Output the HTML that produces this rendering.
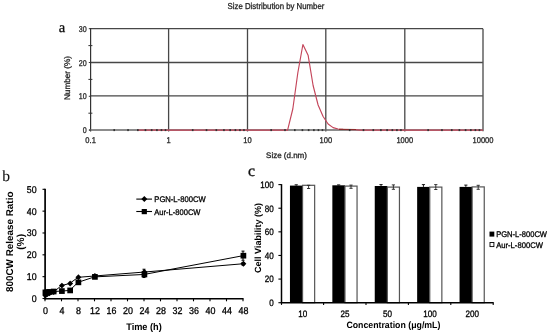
<!DOCTYPE html>
<html><head><meta charset="utf-8"><style>
html,body{margin:0;padding:0;background:#fff;}
body{width:550px;height:336px;overflow:hidden;font-family:"Liberation Sans",sans-serif;}
svg{display:block;will-change:transform;filter:blur(0.4px);}
</style></head><body>
<svg width="550" height="336" viewBox="0 0 550 336" text-rendering="geometricPrecision">
<rect x="0" y="0" width="550" height="336" fill="#fff"/>
<text x="276.00" y="9.00" font-family="Liberation Sans" font-size="8.6" font-weight="normal" text-anchor="middle" fill="#262626" stroke="#262626" stroke-width="0.3" textLength="96.8" lengthAdjust="spacingAndGlyphs">Size Distribution by Number</text>
<text x="58.70" y="31.70" font-family="Liberation Serif" font-size="14.5" font-weight="normal" text-anchor="start" fill="#111" stroke="#111" stroke-width="0.3" >a</text>
<line x1="90.60" y1="95.90" x2="483.00" y2="95.90" stroke="#474747" stroke-width="1.3" />
<line x1="90.60" y1="62.50" x2="483.00" y2="62.50" stroke="#474747" stroke-width="1.3" />
<line x1="90.60" y1="28.70" x2="483.00" y2="28.70" stroke="#474747" stroke-width="1.3" />
<line x1="168.60" y1="28.70" x2="168.60" y2="131.50" stroke="#474747" stroke-width="1.3" />
<line x1="247.50" y1="28.70" x2="247.50" y2="131.50" stroke="#474747" stroke-width="1.3" />
<line x1="325.80" y1="28.70" x2="325.80" y2="131.50" stroke="#474747" stroke-width="1.3" />
<line x1="404.80" y1="28.70" x2="404.80" y2="131.50" stroke="#474747" stroke-width="1.3" />
<line x1="483.00" y1="28.70" x2="483.00" y2="131.30" stroke="#555" stroke-width="1.4" />
<line x1="90.60" y1="28.10" x2="90.60" y2="131.60" stroke="#333" stroke-width="1.2" />
<line x1="89.10" y1="130.10" x2="483.00" y2="130.10" stroke="#666" stroke-width="1.5" />
<line x1="88.40" y1="113.20" x2="92.40" y2="113.20" stroke="#333" stroke-width="1" />
<line x1="88.40" y1="79.40" x2="92.40" y2="79.40" stroke="#333" stroke-width="1" />
<line x1="88.40" y1="45.60" x2="92.40" y2="45.60" stroke="#333" stroke-width="1" />
<line x1="88.80" y1="130.10" x2="90.60" y2="130.10" stroke="#333" stroke-width="1" />
<line x1="88.80" y1="96.30" x2="90.60" y2="96.30" stroke="#333" stroke-width="1" />
<line x1="88.80" y1="62.50" x2="90.60" y2="62.50" stroke="#333" stroke-width="1" />
<line x1="88.80" y1="28.70" x2="90.60" y2="28.70" stroke="#333" stroke-width="1" />
<text x="86.70" y="133.20" font-family="Liberation Sans" font-size="8.4" font-weight="normal" text-anchor="end" fill="#262626" stroke="#262626" stroke-width="0.3" textLength="3.95" lengthAdjust="spacingAndGlyphs">0</text>
<text x="86.70" y="99.40" font-family="Liberation Sans" font-size="8.4" font-weight="normal" text-anchor="end" fill="#262626" stroke="#262626" stroke-width="0.3" textLength="7.90" lengthAdjust="spacingAndGlyphs">10</text>
<text x="86.70" y="65.60" font-family="Liberation Sans" font-size="8.4" font-weight="normal" text-anchor="end" fill="#262626" stroke="#262626" stroke-width="0.3" textLength="7.90" lengthAdjust="spacingAndGlyphs">20</text>
<text x="86.70" y="31.80" font-family="Liberation Sans" font-size="8.4" font-weight="normal" text-anchor="end" fill="#262626" stroke="#262626" stroke-width="0.3" textLength="7.90" lengthAdjust="spacingAndGlyphs">30</text>
<text x="90.60" y="143.20" font-family="Liberation Sans" font-size="8.4" font-weight="normal" text-anchor="middle" fill="#262626" stroke="#262626" stroke-width="0.3" textLength="10.50" lengthAdjust="spacingAndGlyphs">0.1</text>
<text x="168.60" y="143.20" font-family="Liberation Sans" font-size="8.4" font-weight="normal" text-anchor="middle" fill="#262626" stroke="#262626" stroke-width="0.3" textLength="4.20" lengthAdjust="spacingAndGlyphs">1</text>
<text x="247.50" y="143.20" font-family="Liberation Sans" font-size="8.4" font-weight="normal" text-anchor="middle" fill="#262626" stroke="#262626" stroke-width="0.3" textLength="8.40" lengthAdjust="spacingAndGlyphs">10</text>
<text x="325.80" y="143.20" font-family="Liberation Sans" font-size="8.4" font-weight="normal" text-anchor="middle" fill="#262626" stroke="#262626" stroke-width="0.3" textLength="12.60" lengthAdjust="spacingAndGlyphs">100</text>
<text x="404.80" y="143.20" font-family="Liberation Sans" font-size="8.4" font-weight="normal" text-anchor="middle" fill="#262626" stroke="#262626" stroke-width="0.3" textLength="16.80" lengthAdjust="spacingAndGlyphs">1000</text>
<text x="483.00" y="143.20" font-family="Liberation Sans" font-size="8.4" font-weight="normal" text-anchor="middle" fill="#262626" stroke="#262626" stroke-width="0.3" textLength="21.00" lengthAdjust="spacingAndGlyphs">10000</text>
<text x="286.50" y="157.70" font-family="Liberation Sans" font-size="8" font-weight="normal" text-anchor="middle" fill="#262626" stroke="#262626" stroke-width="0.3" >Size (d.nm)</text>
<text transform="translate(70.3,78.0) rotate(-90)" font-family="Liberation Sans" font-size="8.2" text-anchor="middle" fill="#262626" stroke="#262626" stroke-width="0.3">Number (%)</text>
<path d="M137.50,130.10 L287.60,130.10 L292.80,109.00 L297.80,73.00 L302.90,44.50 L308.10,55.20 L313.10,85.50 L318.10,105.00 L323.10,116.50 L328.10,124.00 L333.10,127.60 L338.10,129.00 L343.10,129.40 L355.00,129.60 L360.00,130.10 L483.00,130.10" fill="none" stroke="#c4455a" stroke-width="1.15" stroke-linejoin="round"/>
<path d="M339,129.3 L356,129.5" stroke="#8a2c2c" stroke-width="1.2" fill="none"/>
<rect x="113.42" y="129.10" width="1.6" height="2" fill="#333"/>
<rect x="127.24" y="129.10" width="1.6" height="2" fill="#333"/>
<rect x="137.05" y="129.10" width="1.6" height="2" fill="#333"/>
<rect x="144.66" y="129.10" width="1.6" height="2" fill="#333"/>
<rect x="150.87" y="129.10" width="1.6" height="2" fill="#333"/>
<rect x="156.12" y="129.10" width="1.6" height="2" fill="#333"/>
<rect x="160.67" y="129.10" width="1.6" height="2" fill="#333"/>
<rect x="164.69" y="129.10" width="1.6" height="2" fill="#333"/>
<rect x="191.90" y="129.10" width="1.6" height="2" fill="#333"/>
<rect x="205.72" y="129.10" width="1.6" height="2" fill="#333"/>
<rect x="215.53" y="129.10" width="1.6" height="2" fill="#333"/>
<rect x="223.14" y="129.10" width="1.6" height="2" fill="#333"/>
<rect x="229.35" y="129.10" width="1.6" height="2" fill="#333"/>
<rect x="234.60" y="129.10" width="1.6" height="2" fill="#333"/>
<rect x="239.15" y="129.10" width="1.6" height="2" fill="#333"/>
<rect x="243.17" y="129.10" width="1.6" height="2" fill="#333"/>
<rect x="270.38" y="129.10" width="1.6" height="2" fill="#333"/>
<rect x="284.20" y="129.10" width="1.6" height="2" fill="#333"/>
<rect x="294.01" y="129.10" width="1.6" height="2" fill="#333"/>
<rect x="301.62" y="129.10" width="1.6" height="2" fill="#333"/>
<rect x="307.83" y="129.10" width="1.6" height="2" fill="#333"/>
<rect x="313.08" y="129.10" width="1.6" height="2" fill="#333"/>
<rect x="317.63" y="129.10" width="1.6" height="2" fill="#333"/>
<rect x="321.65" y="129.10" width="1.6" height="2" fill="#333"/>
<rect x="348.86" y="129.10" width="1.6" height="2" fill="#333"/>
<rect x="362.68" y="129.10" width="1.6" height="2" fill="#333"/>
<rect x="372.49" y="129.10" width="1.6" height="2" fill="#333"/>
<rect x="380.10" y="129.10" width="1.6" height="2" fill="#333"/>
<rect x="386.31" y="129.10" width="1.6" height="2" fill="#333"/>
<rect x="391.56" y="129.10" width="1.6" height="2" fill="#333"/>
<rect x="396.11" y="129.10" width="1.6" height="2" fill="#333"/>
<rect x="400.13" y="129.10" width="1.6" height="2" fill="#333"/>
<rect x="427.34" y="129.10" width="1.6" height="2" fill="#333"/>
<rect x="441.16" y="129.10" width="1.6" height="2" fill="#333"/>
<rect x="450.97" y="129.10" width="1.6" height="2" fill="#333"/>
<rect x="458.58" y="129.10" width="1.6" height="2" fill="#333"/>
<rect x="464.79" y="129.10" width="1.6" height="2" fill="#333"/>
<rect x="470.04" y="129.10" width="1.6" height="2" fill="#333"/>
<rect x="474.59" y="129.10" width="1.6" height="2" fill="#333"/>
<rect x="478.61" y="129.10" width="1.6" height="2" fill="#333"/>
<text x="2.20" y="180.70" font-family="Liberation Serif" font-size="15.5" font-weight="normal" text-anchor="start" fill="#111" stroke="#111" stroke-width="0.1" >b</text>
<line x1="45.10" y1="188.80" x2="45.10" y2="299.50" stroke="#000" stroke-width="1.7" />
<line x1="44.50" y1="298.80" x2="243.50" y2="298.80" stroke="#000" stroke-width="1.6" />
<line x1="42.50" y1="298.50" x2="45.00" y2="298.50" stroke="#000" stroke-width="1.1" />
<text x="36.60" y="302.00" font-family="Liberation Sans" font-size="9.8" font-weight="normal" text-anchor="end" fill="#000" stroke="#000" stroke-width="0.3" textLength="4.90" lengthAdjust="spacingAndGlyphs">0</text>
<line x1="42.50" y1="276.66" x2="45.00" y2="276.66" stroke="#000" stroke-width="1.1" />
<text x="36.60" y="280.16" font-family="Liberation Sans" font-size="9.8" font-weight="normal" text-anchor="end" fill="#000" stroke="#000" stroke-width="0.3" textLength="9.80" lengthAdjust="spacingAndGlyphs">10</text>
<line x1="42.50" y1="254.82" x2="45.00" y2="254.82" stroke="#000" stroke-width="1.1" />
<text x="36.60" y="258.32" font-family="Liberation Sans" font-size="9.8" font-weight="normal" text-anchor="end" fill="#000" stroke="#000" stroke-width="0.3" textLength="9.80" lengthAdjust="spacingAndGlyphs">20</text>
<line x1="42.50" y1="232.98" x2="45.00" y2="232.98" stroke="#000" stroke-width="1.1" />
<text x="36.60" y="236.48" font-family="Liberation Sans" font-size="9.8" font-weight="normal" text-anchor="end" fill="#000" stroke="#000" stroke-width="0.3" textLength="9.80" lengthAdjust="spacingAndGlyphs">30</text>
<line x1="42.50" y1="211.14" x2="45.00" y2="211.14" stroke="#000" stroke-width="1.1" />
<text x="36.60" y="214.64" font-family="Liberation Sans" font-size="9.8" font-weight="normal" text-anchor="end" fill="#000" stroke="#000" stroke-width="0.3" textLength="9.80" lengthAdjust="spacingAndGlyphs">40</text>
<line x1="42.50" y1="189.30" x2="45.00" y2="189.30" stroke="#000" stroke-width="1.1" />
<text x="36.60" y="192.80" font-family="Liberation Sans" font-size="9.8" font-weight="normal" text-anchor="end" fill="#000" stroke="#000" stroke-width="0.3" textLength="9.80" lengthAdjust="spacingAndGlyphs">50</text>
<line x1="45.00" y1="298.50" x2="45.00" y2="301.30" stroke="#000" stroke-width="1.1" />
<text x="45.40" y="314.40" font-family="Liberation Sans" font-size="9.8" font-weight="normal" text-anchor="middle" fill="#000" stroke="#000" stroke-width="0.3" textLength="4.95" lengthAdjust="spacingAndGlyphs">0</text>
<line x1="61.50" y1="298.50" x2="61.50" y2="301.30" stroke="#000" stroke-width="1.1" />
<text x="61.90" y="314.40" font-family="Liberation Sans" font-size="9.8" font-weight="normal" text-anchor="middle" fill="#000" stroke="#000" stroke-width="0.3" textLength="4.95" lengthAdjust="spacingAndGlyphs">4</text>
<line x1="78.00" y1="298.50" x2="78.00" y2="301.30" stroke="#000" stroke-width="1.1" />
<text x="78.40" y="314.40" font-family="Liberation Sans" font-size="9.8" font-weight="normal" text-anchor="middle" fill="#000" stroke="#000" stroke-width="0.3" textLength="4.95" lengthAdjust="spacingAndGlyphs">8</text>
<line x1="94.50" y1="298.50" x2="94.50" y2="301.30" stroke="#000" stroke-width="1.1" />
<text x="94.90" y="314.40" font-family="Liberation Sans" font-size="9.8" font-weight="normal" text-anchor="middle" fill="#000" stroke="#000" stroke-width="0.3" textLength="9.90" lengthAdjust="spacingAndGlyphs">12</text>
<line x1="111.00" y1="298.50" x2="111.00" y2="301.30" stroke="#000" stroke-width="1.1" />
<text x="111.40" y="314.40" font-family="Liberation Sans" font-size="9.8" font-weight="normal" text-anchor="middle" fill="#000" stroke="#000" stroke-width="0.3" textLength="9.90" lengthAdjust="spacingAndGlyphs">16</text>
<line x1="127.50" y1="298.50" x2="127.50" y2="301.30" stroke="#000" stroke-width="1.1" />
<text x="127.90" y="314.40" font-family="Liberation Sans" font-size="9.8" font-weight="normal" text-anchor="middle" fill="#000" stroke="#000" stroke-width="0.3" textLength="9.90" lengthAdjust="spacingAndGlyphs">20</text>
<line x1="144.00" y1="298.50" x2="144.00" y2="301.30" stroke="#000" stroke-width="1.1" />
<text x="144.40" y="314.40" font-family="Liberation Sans" font-size="9.8" font-weight="normal" text-anchor="middle" fill="#000" stroke="#000" stroke-width="0.3" textLength="9.90" lengthAdjust="spacingAndGlyphs">24</text>
<line x1="160.50" y1="298.50" x2="160.50" y2="301.30" stroke="#000" stroke-width="1.1" />
<text x="160.90" y="314.40" font-family="Liberation Sans" font-size="9.8" font-weight="normal" text-anchor="middle" fill="#000" stroke="#000" stroke-width="0.3" textLength="9.90" lengthAdjust="spacingAndGlyphs">28</text>
<line x1="177.00" y1="298.50" x2="177.00" y2="301.30" stroke="#000" stroke-width="1.1" />
<text x="177.40" y="314.40" font-family="Liberation Sans" font-size="9.8" font-weight="normal" text-anchor="middle" fill="#000" stroke="#000" stroke-width="0.3" textLength="9.90" lengthAdjust="spacingAndGlyphs">32</text>
<line x1="193.50" y1="298.50" x2="193.50" y2="301.30" stroke="#000" stroke-width="1.1" />
<text x="193.90" y="314.40" font-family="Liberation Sans" font-size="9.8" font-weight="normal" text-anchor="middle" fill="#000" stroke="#000" stroke-width="0.3" textLength="9.90" lengthAdjust="spacingAndGlyphs">36</text>
<line x1="210.00" y1="298.50" x2="210.00" y2="301.30" stroke="#000" stroke-width="1.1" />
<text x="210.40" y="314.40" font-family="Liberation Sans" font-size="9.8" font-weight="normal" text-anchor="middle" fill="#000" stroke="#000" stroke-width="0.3" textLength="9.90" lengthAdjust="spacingAndGlyphs">40</text>
<line x1="226.50" y1="298.50" x2="226.50" y2="301.30" stroke="#000" stroke-width="1.1" />
<text x="226.90" y="314.40" font-family="Liberation Sans" font-size="9.8" font-weight="normal" text-anchor="middle" fill="#000" stroke="#000" stroke-width="0.3" textLength="9.90" lengthAdjust="spacingAndGlyphs">44</text>
<line x1="243.00" y1="298.50" x2="243.00" y2="301.30" stroke="#000" stroke-width="1.1" />
<text x="243.40" y="314.40" font-family="Liberation Sans" font-size="9.8" font-weight="normal" text-anchor="middle" fill="#000" stroke="#000" stroke-width="0.3" textLength="9.90" lengthAdjust="spacingAndGlyphs">48</text>
<text x="144.00" y="329.50" font-family="Liberation Sans" font-size="9.6" font-weight="bold" text-anchor="middle" fill="#000" textLength="35.6" lengthAdjust="spacingAndGlyphs">Time (h)</text>
<text transform="translate(12.9,241.8) rotate(-90)" font-family="Liberation Sans" font-size="9.9" font-weight="bold" text-anchor="middle">800CW Release Ratio</text>
<text transform="translate(24.0,241.9) rotate(-90)" font-family="Liberation Sans" font-size="10.2" font-weight="bold" text-anchor="middle">(%)</text>
<path d="M45.00,295.44 L47.06,294.13 L49.12,293.26 L53.25,292.17 L61.50,285.61 L69.75,283.43 L78.00,277.32 L94.50,276.00 L144.00,272.07 L243.00,263.77" fill="none" stroke="#000" stroke-width="1.0"/>
<path d="M45.00,292.38 L47.06,292.17 L49.12,291.95 L53.25,291.51 L61.50,291.07 L69.75,290.42 L78.00,282.34 L94.50,276.88 L144.00,274.48 L243.00,255.69" fill="none" stroke="#000" stroke-width="1.0"/>
<line x1="144.00" y1="271.42" x2="144.00" y2="277.53" stroke="#000" stroke-width="1" />
<line x1="142.50" y1="271.42" x2="145.50" y2="271.42" stroke="#000" stroke-width="1" />
<line x1="142.50" y1="277.53" x2="145.50" y2="277.53" stroke="#000" stroke-width="1" />
<line x1="243.00" y1="251.11" x2="243.00" y2="260.28" stroke="#000" stroke-width="1" />
<line x1="241.50" y1="251.11" x2="244.50" y2="251.11" stroke="#000" stroke-width="1" />
<line x1="241.50" y1="260.28" x2="244.50" y2="260.28" stroke="#000" stroke-width="1" />
<line x1="144.00" y1="269.23" x2="144.00" y2="274.91" stroke="#000" stroke-width="1" />
<line x1="142.50" y1="269.23" x2="145.50" y2="269.23" stroke="#000" stroke-width="1" />
<line x1="142.50" y1="274.91" x2="145.50" y2="274.91" stroke="#000" stroke-width="1" />
<line x1="243.00" y1="262.46" x2="243.00" y2="265.08" stroke="#000" stroke-width="1" />
<line x1="241.50" y1="262.46" x2="244.50" y2="262.46" stroke="#000" stroke-width="1" />
<line x1="241.50" y1="265.08" x2="244.50" y2="265.08" stroke="#000" stroke-width="1" />
<path d="M45.40,292.49 L48.35,295.44 L45.40,298.39 L42.45,295.44 Z" fill="#000"/>
<path d="M47.46,291.18 L50.41,294.13 L47.46,297.08 L44.51,294.13 Z" fill="#000"/>
<path d="M49.52,290.31 L52.48,293.26 L49.52,296.21 L46.57,293.26 Z" fill="#000"/>
<path d="M53.65,289.22 L56.60,292.17 L53.65,295.12 L50.70,292.17 Z" fill="#000"/>
<path d="M61.90,282.66 L64.85,285.61 L61.90,288.56 L58.95,285.61 Z" fill="#000"/>
<path d="M70.15,280.48 L73.10,283.43 L70.15,286.38 L67.20,283.43 Z" fill="#000"/>
<path d="M78.40,274.37 L81.35,277.32 L78.40,280.27 L75.45,277.32 Z" fill="#000"/>
<path d="M94.90,273.05 L97.85,276.00 L94.90,278.95 L91.95,276.00 Z" fill="#000"/>
<path d="M144.40,269.12 L147.35,272.07 L144.40,275.02 L141.45,272.07 Z" fill="#000"/>
<path d="M243.40,260.82 L246.35,263.77 L243.40,266.72 L240.45,263.77 Z" fill="#000"/>
<rect x="42.55" y="289.53" width="5.7" height="5.7" fill="#000"/>
<rect x="44.61" y="289.32" width="5.7" height="5.7" fill="#000"/>
<rect x="46.67" y="289.10" width="5.7" height="5.7" fill="#000"/>
<rect x="50.80" y="288.66" width="5.7" height="5.7" fill="#000"/>
<rect x="59.05" y="288.22" width="5.7" height="5.7" fill="#000"/>
<rect x="67.30" y="287.57" width="5.7" height="5.7" fill="#000"/>
<rect x="75.55" y="279.49" width="5.7" height="5.7" fill="#000"/>
<rect x="92.05" y="274.03" width="5.7" height="5.7" fill="#000"/>
<rect x="141.55" y="271.63" width="5.7" height="5.7" fill="#000"/>
<rect x="240.55" y="252.84" width="5.7" height="5.7" fill="#000"/>
<line x1="136.30" y1="199.10" x2="152.00" y2="199.10" stroke="#000" stroke-width="1.1" />
<path d="M144.30,196.10 L147.30,199.10 L144.30,202.10 L141.30,199.10 Z" fill="#000"/>
<line x1="136.30" y1="211.50" x2="152.00" y2="211.50" stroke="#000" stroke-width="1.1" />
<rect x="141.70" y="209.00" width="5.2" height="5.2" fill="#000"/>
<text x="154.30" y="202.00" font-family="Liberation Sans" font-size="8.2" font-weight="normal" text-anchor="start" fill="#000" stroke="#000" stroke-width="0.3" textLength="51.3" lengthAdjust="spacingAndGlyphs">PGN-L-800CW</text>
<text x="154.30" y="214.60" font-family="Liberation Sans" font-size="8.2" font-weight="normal" text-anchor="start" fill="#000" stroke="#000" stroke-width="0.3" textLength="46.2" lengthAdjust="spacingAndGlyphs">Aur-L-800CW</text>
<text x="247.90" y="175.80" font-family="Liberation Serif" font-size="15.8" font-weight="normal" text-anchor="start" fill="#111" stroke="#111" stroke-width="0.35" >c</text>
<rect x="289.95" y="185.60" width="12.6" height="117.10" fill="#000"/>
<rect x="302.55" y="185.30" width="12.1" height="117.40" fill="#fff" stroke="#555" stroke-width="1.2"/>
<line x1="296.25" y1="184.80" x2="296.25" y2="185.60" stroke="#000" stroke-width="0.9" />
<line x1="294.65" y1="184.80" x2="297.85" y2="184.80" stroke="#000" stroke-width="0.9" />
<line x1="308.60" y1="185.30" x2="308.60" y2="188.50" stroke="#222" stroke-width="0.9" />
<line x1="307.00" y1="185.30" x2="310.20" y2="185.30" stroke="#222" stroke-width="0.9" />
<line x1="307.00" y1="188.50" x2="310.20" y2="188.50" stroke="#222" stroke-width="0.9" />
<rect x="332.35" y="185.30" width="12.6" height="117.40" fill="#000"/>
<rect x="344.95" y="186.10" width="12.1" height="116.60" fill="#fff" stroke="#555" stroke-width="1.2"/>
<line x1="338.65" y1="184.90" x2="338.65" y2="185.30" stroke="#000" stroke-width="0.9" />
<line x1="337.05" y1="184.90" x2="340.25" y2="184.90" stroke="#000" stroke-width="0.9" />
<line x1="351.00" y1="185.10" x2="351.00" y2="188.30" stroke="#222" stroke-width="0.9" />
<line x1="349.40" y1="185.10" x2="352.60" y2="185.10" stroke="#222" stroke-width="0.9" />
<line x1="349.40" y1="188.30" x2="352.60" y2="188.30" stroke="#222" stroke-width="0.9" />
<rect x="374.75" y="186.00" width="12.6" height="116.70" fill="#000"/>
<rect x="387.35" y="187.10" width="12.1" height="115.60" fill="#fff" stroke="#555" stroke-width="1.2"/>
<line x1="381.05" y1="184.60" x2="381.05" y2="186.00" stroke="#000" stroke-width="0.9" />
<line x1="379.45" y1="184.60" x2="382.65" y2="184.60" stroke="#000" stroke-width="0.9" />
<line x1="393.40" y1="184.90" x2="393.40" y2="189.30" stroke="#222" stroke-width="0.9" />
<line x1="391.80" y1="184.90" x2="395.00" y2="184.90" stroke="#222" stroke-width="0.9" />
<line x1="391.80" y1="189.30" x2="395.00" y2="189.30" stroke="#222" stroke-width="0.9" />
<rect x="417.15" y="186.90" width="12.6" height="115.80" fill="#000"/>
<rect x="429.75" y="187.10" width="12.1" height="115.60" fill="#fff" stroke="#555" stroke-width="1.2"/>
<line x1="423.45" y1="184.60" x2="423.45" y2="186.90" stroke="#000" stroke-width="0.9" />
<line x1="421.85" y1="184.60" x2="425.05" y2="184.60" stroke="#000" stroke-width="0.9" />
<line x1="435.80" y1="184.60" x2="435.80" y2="189.50" stroke="#222" stroke-width="0.9" />
<line x1="434.20" y1="184.60" x2="437.40" y2="184.60" stroke="#222" stroke-width="0.9" />
<line x1="434.20" y1="189.50" x2="437.40" y2="189.50" stroke="#222" stroke-width="0.9" />
<rect x="459.55" y="186.90" width="12.6" height="115.80" fill="#000"/>
<rect x="472.15" y="186.90" width="12.1" height="115.80" fill="#fff" stroke="#555" stroke-width="1.2"/>
<line x1="465.85" y1="185.10" x2="465.85" y2="186.90" stroke="#000" stroke-width="0.9" />
<line x1="464.25" y1="185.10" x2="467.45" y2="185.10" stroke="#000" stroke-width="0.9" />
<line x1="478.20" y1="185.30" x2="478.20" y2="189.30" stroke="#222" stroke-width="0.9" />
<line x1="476.60" y1="185.30" x2="479.80" y2="185.30" stroke="#222" stroke-width="0.9" />
<line x1="476.60" y1="189.30" x2="479.80" y2="189.30" stroke="#222" stroke-width="0.9" />
<line x1="281.50" y1="184.10" x2="281.50" y2="303.20" stroke="#000" stroke-width="1.5" />
<line x1="280.70" y1="302.70" x2="493.70" y2="302.70" stroke="#000" stroke-width="1.4" />
<line x1="278.40" y1="302.70" x2="281.20" y2="302.70" stroke="#000" stroke-width="1.1" />
<text x="273.80" y="306.10" font-family="Liberation Sans" font-size="9.4" font-weight="normal" text-anchor="end" fill="#000" stroke="#000" stroke-width="0.3" textLength="4.50" lengthAdjust="spacingAndGlyphs">0</text>
<line x1="278.40" y1="279.08" x2="281.20" y2="279.08" stroke="#000" stroke-width="1.1" />
<text x="273.80" y="282.48" font-family="Liberation Sans" font-size="9.4" font-weight="normal" text-anchor="end" fill="#000" stroke="#000" stroke-width="0.3" textLength="9.00" lengthAdjust="spacingAndGlyphs">20</text>
<line x1="278.40" y1="255.46" x2="281.20" y2="255.46" stroke="#000" stroke-width="1.1" />
<text x="273.80" y="258.86" font-family="Liberation Sans" font-size="9.4" font-weight="normal" text-anchor="end" fill="#000" stroke="#000" stroke-width="0.3" textLength="9.00" lengthAdjust="spacingAndGlyphs">40</text>
<line x1="278.40" y1="231.84" x2="281.20" y2="231.84" stroke="#000" stroke-width="1.1" />
<text x="273.80" y="235.24" font-family="Liberation Sans" font-size="9.4" font-weight="normal" text-anchor="end" fill="#000" stroke="#000" stroke-width="0.3" textLength="9.00" lengthAdjust="spacingAndGlyphs">60</text>
<line x1="278.40" y1="208.22" x2="281.20" y2="208.22" stroke="#000" stroke-width="1.1" />
<text x="273.80" y="211.62" font-family="Liberation Sans" font-size="9.4" font-weight="normal" text-anchor="end" fill="#000" stroke="#000" stroke-width="0.3" textLength="9.00" lengthAdjust="spacingAndGlyphs">80</text>
<line x1="278.40" y1="184.60" x2="281.20" y2="184.60" stroke="#000" stroke-width="1.1" />
<text x="273.80" y="188.00" font-family="Liberation Sans" font-size="9.4" font-weight="normal" text-anchor="end" fill="#000" stroke="#000" stroke-width="0.3" textLength="13.50" lengthAdjust="spacingAndGlyphs">100</text>
<line x1="281.50" y1="302.70" x2="281.50" y2="304.90" stroke="#000" stroke-width="1.1" />
<line x1="323.60" y1="302.70" x2="323.60" y2="304.90" stroke="#000" stroke-width="1.1" />
<line x1="366.00" y1="302.70" x2="366.00" y2="304.90" stroke="#000" stroke-width="1.1" />
<line x1="408.40" y1="302.70" x2="408.40" y2="304.90" stroke="#000" stroke-width="1.1" />
<line x1="450.80" y1="302.70" x2="450.80" y2="304.90" stroke="#000" stroke-width="1.1" />
<line x1="493.20" y1="302.70" x2="493.20" y2="304.90" stroke="#000" stroke-width="1.1" />
<text x="302.70" y="316.60" font-family="Liberation Sans" font-size="9.4" font-weight="normal" text-anchor="middle" fill="#000" stroke="#000" stroke-width="0.3" textLength="9.00" lengthAdjust="spacingAndGlyphs">10</text>
<text x="345.10" y="316.60" font-family="Liberation Sans" font-size="9.4" font-weight="normal" text-anchor="middle" fill="#000" stroke="#000" stroke-width="0.3" textLength="9.00" lengthAdjust="spacingAndGlyphs">25</text>
<text x="387.50" y="316.60" font-family="Liberation Sans" font-size="9.4" font-weight="normal" text-anchor="middle" fill="#000" stroke="#000" stroke-width="0.3" textLength="9.00" lengthAdjust="spacingAndGlyphs">50</text>
<text x="429.90" y="316.60" font-family="Liberation Sans" font-size="9.4" font-weight="normal" text-anchor="middle" fill="#000" stroke="#000" stroke-width="0.3" textLength="13.50" lengthAdjust="spacingAndGlyphs">100</text>
<text x="472.30" y="316.60" font-family="Liberation Sans" font-size="9.4" font-weight="normal" text-anchor="middle" fill="#000" stroke="#000" stroke-width="0.3" textLength="13.50" lengthAdjust="spacingAndGlyphs">200</text>
<text x="393.40" y="327.80" font-family="Liberation Sans" font-size="9.2" font-weight="bold" text-anchor="middle" fill="#000" textLength="94" lengthAdjust="spacingAndGlyphs">Concentration (μg/mL)</text>
<text transform="translate(261.3,238.0) rotate(-90)" font-family="Liberation Sans" font-size="9" font-weight="bold" text-anchor="middle">Cell Viability (%)</text>
<rect x="489.5" y="231.6" width="4.8" height="5.0" fill="#000"/>
<rect x="490.0" y="242.5" width="3.9" height="4.1" fill="#fff" stroke="#000" stroke-width="0.9"/>
<text x="496.20" y="237.10" font-family="Liberation Sans" font-size="8.2" font-weight="normal" text-anchor="start" fill="#000" stroke="#000" stroke-width="0.3" textLength="50.8" lengthAdjust="spacingAndGlyphs">PGN-L-800CW</text>
<text x="496.20" y="247.50" font-family="Liberation Sans" font-size="8.2" font-weight="normal" text-anchor="start" fill="#000" stroke="#000" stroke-width="0.3" textLength="46.7" lengthAdjust="spacingAndGlyphs">Aur-L-800CW</text>
</svg>
</body></html>
